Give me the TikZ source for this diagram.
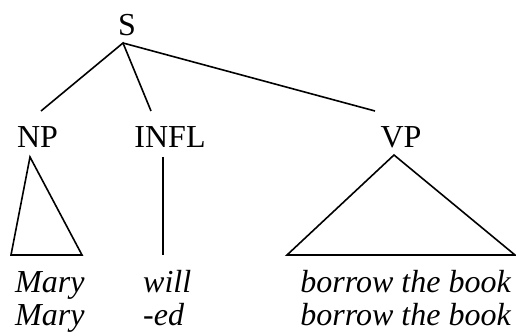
\documentclass[tikz,border=0pt]{standalone}
\usepackage{fontspec}
\setmainfont{Liberation Serif}
\begin{document}
\begin{tikzpicture}[x=1pt,y=-1pt,
  lbl/.style={inner sep=0pt,anchor=base,font=\fontsize{32}{38}\selectfont},
  word/.style={inner sep=0pt,font=\fontsize{32}{38}\selectfont\itshape},
  edge/.style={line width=1.6pt,line join=miter}]
\useasboundingbox (0,0) rectangle (516,336);
% category labels
\node[lbl] (S) at (127,36) {S};
\node[lbl] (NP) at (37.5,148) {NP};
\node[lbl] (INFL) at (170,148) {INFL};
\node[lbl] (VP) at (401,148) {VP};
% connector points
\coordinate (Sb) at (123,43);
\coordinate (NPt) at (41,111);
\coordinate (INFLt) at (151,111);
\coordinate (VPt) at (375,111);
\draw[edge] (NPt) -- (Sb) -- (INFLt);
\draw[edge] (Sb) -- (VPt);
% NP triangle
\coordinate (NPa) at (30,157);
\coordinate (NPl) at (11,255);
\coordinate (NPr) at (82,255);
\draw[edge] (NPa) -- (NPl) -- (NPr) -- cycle;
% INFL line
\coordinate (Ia) at (163,157);
\coordinate (Ib) at (163,255);
\draw[edge] (Ia) -- (Ib);
% VP triangle
\coordinate (VPa) at (394,155);
\coordinate (VPl) at (287,255);
\coordinate (VPr) at (515,255);
\draw[edge] (VPa) -- (VPl) -- (VPr) -- cycle;
% words
\node[word,anchor=base west] (m1) at (15,293) {Mary};
\node[word,anchor=base west] (w1) at (143,293) {will};
\node[word,anchor=base east] (b1) at (511,293) {borrow the book};
\node[word,anchor=base west] (m2) at (15,325) {Mary};
\node[word,anchor=base west] (w2) at (143,325) {-ed};
\node[word,anchor=base east] (b2) at (511,325) {borrow the book};
\end{tikzpicture}
\end{document}
